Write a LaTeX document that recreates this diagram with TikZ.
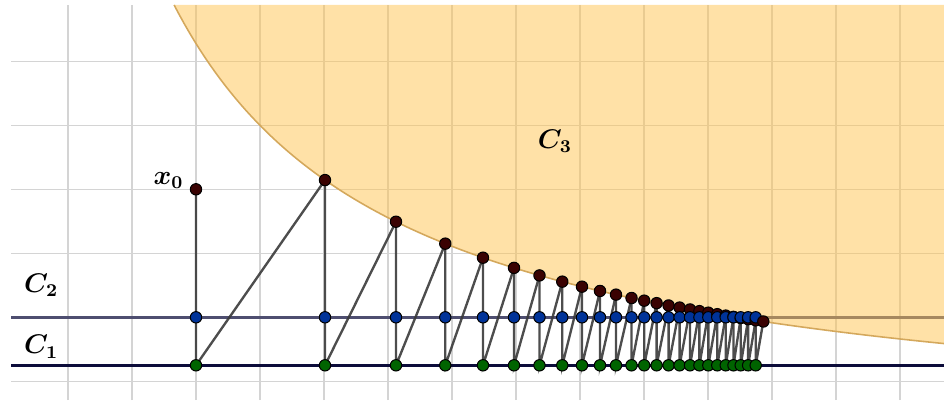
\documentclass[tikz,border=0pt]{standalone}
\definecolor{gridc}{RGB}{212,212,212}
\definecolor{fillc}{RGB}{255,195,80}
\definecolor{edgec}{RGB}{212,168,92}
\definecolor{cone}{RGB}{12,12,58}
\definecolor{ctwo}{RGB}{78,78,112}
\definecolor{segc}{RGB}{58,58,58}
\definecolor{redp}{RGB}{58,2,2}
\definecolor{bluep}{RGB}{0,51,153}
\definecolor{greenp}{RGB}{0,100,0}
\tikzset{
  dot/.style={circle,draw=black,line width=0.45pt,inner sep=0pt,minimum size=0.178cm},
  pcthree/.style={dot,fill=redp},
  pctwo/.style={dot,fill=bluep},
  pcone/.style={dot,fill=greenp},
  seg/.style={draw=segc,line width=1.05pt,opacity=0.9},
  gridline/.style={draw=gridc,line width=0.6pt},
  lab/.style={font=\fontsize{12}{14}\selectfont\boldmath,inner sep=0pt}
}
\begin{document}
\begin{tikzpicture}[declare function={f(\x)=-1.97+24.29/(\x+3.888);}]
\useasboundingbox (-3.0625,-1.2922) rectangle (11.6875,4.9578);
% grid
\foreach \i in {-2,...,11} \draw[gridline] (\i,-1.2922) -- (\i,4.88);
\foreach \j in {-1,...,4} \draw[gridline] (-2.89,\j) -- (11.6875,\j);
% the lines C1 and C2
\coordinate (c1l) at (-2.89,-0.75);
\coordinate (c1r) at (11.6875,-0.75);
\coordinate (c2l) at (-2.89,0);
\coordinate (c2r) at (11.6875,0);
\draw[cone,line width=1.4pt] (c1l) -- (c1r);
\draw[ctwo,line width=1.6pt] (c2l) -- (c2r);
% the set C3
\fill[fillc,opacity=0.5] plot[domain=-0.342:11.6875,samples=150] (\x,{f(\x)}) -- (11.6875,4.88) -- (-0.342,4.88) -- cycle;
\draw[edgec,line width=0.7pt] plot[domain=-0.342:11.6875,samples=150] (\x,{f(\x)});
% iterates
\coordinate (r0) at (0,2);
\foreach \xv [count=\k] in {2.0156,3.125,3.895,4.484,4.969,5.367,5.723,6.031,6.3125,6.5625,6.805,7.003,7.197,7.384,7.556,7.719,7.866,8.005,8.145,8.277,8.398,8.511,8.627,8.745,8.864}
  \coordinate (r\k) at (\xv,{f(\xv)});
\foreach \k in {0,...,24} {
  \coordinate (b\k) at (r\k |- c2l);
  \coordinate (g\k) at (r\k |- c1l);
}
\foreach \k in {0,...,24} {
  \pgfmathtruncatemacro{\n}{\k+1}
  \draw[seg] (r\k) -- (g\k) -- (r\n);
}
\foreach \k in {0,...,24} {
  \node[pcthree] (pr\k) at (r\k) {};
  \node[pctwo] (pb\k) at (b\k) {};
  \node[pcone] (pg\k) at (g\k) {};
}
\node[pcthree] (pr25) at (r25) {};
% labels
\node[lab] (lx) at (-0.43,2.14) {$x_0$};
\node[lab] (ltwo) at (-2.42,0.50) {$C_2$};
\node[lab] (lone) at (-2.42,-0.46) {$C_1$};
\node[lab] (lthree) at (5.61,2.75) {$C_3$};
\end{tikzpicture}
\end{document}
